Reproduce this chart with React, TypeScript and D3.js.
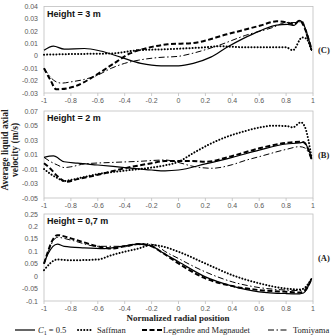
import React from "react";
import * as d3 from "d3";

type P = [number, number];

const xTicks = [-1, -0.8, -0.6, -0.4, -0.2, 0, 0.2, 0.4, 0.6, 0.8, 1];

// Panel C (Height = 3 m)
const solidC: P[] = [[-1,0.0046],[-0.93,0.008],[-0.85,0.0055],[-0.7,0.006],[-0.58,0.004],[-0.43,-0.001],[-0.28,-0.006],[-0.13,-0.008],[0,-0.008],[0.11,-0.006],[0.24,-0.001],[0.36,0.007],[0.48,0.014],[0.61,0.0205],[0.73,0.025],[0.81,0.0255],[0.86,0.0247],[0.9,0.0287],[0.94,0.023],[0.99,0.0046]];
const dottedC: P[] = [[-1,0.001],[-0.8,0.0015],[-0.5,0.002],[-0.3,0.0046],[-0.1,0.0054],[0.2,0.007],[0.3,0.0078],[0.5,0.007],[0.8,0.007],[0.85,0.0046],[0.92,0.015],[0.95,0.014],[0.99,0.004]];
const dashedC: P[] = [[-1,-0.01],[-0.95,-0.02],[-0.91,-0.027],[-0.78,-0.025],[-0.65,-0.018],[-0.5,-0.0075],[-0.36,0.002],[-0.21,0.007],[-0.08,0.0094],[0.11,0.0105],[0.36,0.0175],[0.61,0.0246],[0.73,0.028],[0.81,0.027],[0.86,0.0255],[0.9,0.0287],[0.94,0.022],[0.99,0.005]];
const dashdotC: P[] = [[-1,-0.01],[-0.93,-0.0195],[-0.87,-0.022],[-0.8,-0.021],[-0.7,-0.019],[-0.6,-0.0155],[-0.5,-0.01],[-0.4,-0.006],[-0.3,-0.0035],[-0.15,-0.0013],[0,-0.0003],[0.1,0.002],[0.3,0.0086],[0.5,0.0167],[0.7,0.023],[0.8,0.027],[0.88,0.027],[0.92,0.0283],[0.96,0.0135],[0.99,0.004]];
const yTicksC = [-0.03, -0.02, -0.01, 0, 0.01, 0.02, 0.03, 0.04];

// Panel B (Height = 2 m)
const solidB: P[] = [[-1,0.006],[-0.93,0.008],[-0.85,0.0],[-0.75,-0.002],[-0.6,-0.0045],[-0.4,-0.008],[-0.2,-0.0114],[-0.1,-0.0125],[0,-0.0114],[0.2,-0.003],[0.4,0.006],[0.6,0.016],[0.8,0.0245],[0.9,0.026],[0.93,0.027],[0.99,0.005]];
const dottedB: P[] = [[-1,-0.01],[-0.95,-0.017],[-0.9,-0.0225],[-0.85,-0.0265],[-0.8,-0.025],[-0.7,-0.021],[-0.6,-0.017],[-0.4,-0.0123],[-0.2,-0.008],[-0.1,-0.005],[0,0.0],[0.11,0.012],[0.24,0.025],[0.36,0.0345],[0.48,0.0415],[0.61,0.0475],[0.7,0.0498],[0.81,0.049],[0.85,0.0475],[0.91,0.0544],[0.94,0.048],[0.99,0.005]];
const dashedB: P[] = [[-1,-0.002],[-0.95,-0.01],[-0.9,-0.02],[-0.83,-0.0275],[-0.75,-0.024],[-0.6,-0.018],[-0.4,-0.009],[-0.2,-0.002],[-0.1,0.001],[0,0.001],[0.1,0.001],[0.2,0.0],[0.4,0.008],[0.6,0.0185],[0.8,0.026],[0.9,0.0275],[0.93,0.027],[0.99,0.003]];
const dashdotB: P[] = [[-1,0.006],[-0.95,0.0],[-0.9,-0.0045],[-0.85,-0.008],[-0.8,-0.007],[-0.7,-0.003],[-0.5,-0.001],[-0.3,0.0005],[-0.1,0.0024],[0,-0.001],[0.1,-0.006],[0.25,-0.009],[0.4,-0.004],[0.5,0.002],[0.6,0.007],[0.8,0.017],[0.9,0.0208],[0.94,0.019],[0.99,0.003]];
const yTicksB = [-0.05, -0.03, -0.01, 0.01, 0.03, 0.05, 0.07];

// Panel A (Height = 0,7 m)
const solidA: P[] = [[-1,0.051],[-0.97,0.09],[-0.9,0.129],[-0.85,0.12],[-0.7,0.114],[-0.55,0.111],[-0.4,0.122],[-0.3,0.129],[-0.2,0.122],[-0.13,0.098],[0,0.058],[0.2,-0.003],[0.4,-0.04],[0.6,-0.063],[0.8,-0.07],[0.9,-0.071],[0.93,-0.068],[0.99,-0.009]];
const dottedA: P[] = [[-1,0.024],[-0.9,0.067],[-0.8,0.064],[-0.6,0.067],[-0.5,0.084],[-0.4,0.098],[-0.3,0.111],[-0.2,0.125],[-0.13,0.121],[0,0.098],[0.2,0.051],[0.4,0.004],[0.6,-0.029],[0.8,-0.05],[0.9,-0.054],[0.93,-0.05],[0.99,-0.009]];
const dashedA: P[] = [[-1,0.05],[-0.9,0.165],[-0.8,0.152],[-0.6,0.12],[-0.5,0.111],[-0.4,0.12],[-0.3,0.129],[-0.2,0.12],[-0.13,0.098],[0,0.051],[0.2,-0.009],[0.4,-0.04],[0.6,-0.056],[0.8,-0.063],[0.9,-0.066],[0.93,-0.063],[0.99,-0.009]];
const dashdotA: P[] = [[-1,0.05],[-0.9,0.156],[-0.8,0.145],[-0.6,0.12],[-0.4,0.12],[-0.25,0.131],[-0.15,0.12],[-0.13,0.111],[0,0.071],[0.2,0.017],[0.4,-0.023],[0.6,-0.046],[0.8,-0.056],[0.9,-0.058],[0.93,-0.055],[0.99,-0.009]];
const yTicksA = [-0.1, -0.05, 0, 0.05, 0.1, 0.15, 0.2, 0.25];

const seriesNames = ["= 0.5", "Saffman", "Legendre and Magnaudet", "Tomiyama"];

const styles = [
  { width: 1.2, dash: undefined as string | undefined, cap: "butt" },
  { width: 2, dash: "0.1,3", cap: "round" },
  { width: 2, dash: "5,2.5", cap: "butt" },
  { width: 1, dash: "6,2.5,1.5,2.5", cap: "butt" },
];

const panels = [
  { label: "Height = 3 m", tag: "(C)", top: 6.5, bottom: 93, ticks: yTicksC, series: [solidC, dottedC, dashedC, dashdotC] },
  { label: "Height = 2 m", tag: "(B)", top: 111, bottom: 198, ticks: yTicksB, series: [solidB, dottedB, dashedB, dashdotB] },
  { label: "Height = 0,7 m", tag: "(A)", top: 214, bottom: 301, ticks: yTicksA, series: [solidA, dottedA, dashedA, dashdotA] },
];

const fmt = (v: number) => String(+v.toFixed(2));

export default function App() {
  const W = 334, H = 335;
  const x = d3.scaleLinear().domain([-1, 1]).range([44, 313]);
  const serif = "'Liberation Serif', 'Times New Roman', serif";
  const sans = "'Liberation Sans', Arial, sans-serif";
  const legendItems = [
    { lx: 15, len: 20, tx: 38 },
    { lx: 78, len: 14, tx: 97 },
    { lx: 142, len: 20, tx: 163 },
    { lx: 268, len: 20, tx: 293 },
  ];
  return (
    <svg width={W} height={H} style={{ position: "absolute", left: 0, top: 0, background: "#fff" }}>
      {panels.map((p, pi) => {
        const y = d3.scaleLinear().domain([p.ticks[0], p.ticks[p.ticks.length - 1]]).range([p.bottom, p.top]);
        const line = d3.line<P>().x(d => x(d[0])).y(d => y(d[1])).curve(d3.curveMonotoneX);
        return (
          <g key={pi}>
            <rect x={x(-1)} y={p.top} width={x(1) - x(-1)} height={p.bottom - p.top} fill="#fff" stroke="#bfbfbf" strokeWidth={0.8} />
            {p.ticks.map(t => (
              <text key={t} x={38} y={y(t) + 2.5} fontSize={7} fontFamily={sans} fill="#595959" textAnchor="end">{fmt(t)}</text>
            ))}
            {xTicks.map(t => (
              <g key={t}>
                <line x1={x(t)} x2={x(t)} y1={p.bottom} y2={p.bottom + 3} stroke="#bfbfbf" strokeWidth={0.8} />
                <text x={x(t)} y={p.bottom + 10} fontSize={7} fontFamily={sans} fill="#595959" textAnchor="middle">{fmt(t)}</text>
              </g>
            ))}
            <text x={47} y={p.top + 10} fontSize={9} fontWeight="bold" fontFamily={sans} fill="#111">{p.label}</text>
            <text x={318} y={(p.top + p.bottom) / 2 + 3} fontSize={8.5} fontWeight="bold" fontFamily={serif} fill="#222">{p.tag}</text>
            {p.series.map((s, si) => (
              <path key={si} d={line(s) || ""} fill="none" stroke="#000" strokeWidth={styles[si].width}
                strokeDasharray={styles[si].dash} strokeLinecap={styles[si].cap as any} />
            ))}
          </g>
        );
      })}
      <text transform="translate(8,150) rotate(-90)" fontSize={9.5} fontWeight="bold" fontFamily={serif} textAnchor="middle" fill="#222">Average liquid axial</text>
      <text transform="translate(18,150) rotate(-90)" fontSize={9.5} fontWeight="bold" fontFamily={serif} textAnchor="middle" fill="#222">velocity (m/s)</text>
      <text x={178} y={321} fontSize={9} fontWeight="bold" fontFamily={serif} textAnchor="middle" fill="#222">Normalized radial position</text>
      {legendItems.map((li, i) => (
        <g key={i}>
          <line x1={li.lx} x2={li.lx + li.len} y1={330} y2={330} stroke="#000" strokeWidth={styles[i].width}
            strokeDasharray={styles[i].dash} strokeLinecap={styles[i].cap as any} />
          {i === 0 ? (
            <text x={li.tx} y={333} fontSize={8.5} fontFamily={serif} fill="#222">
              <tspan fontStyle="italic">C</tspan><tspan fontSize={6} dy={1.5}>1</tspan><tspan dy={-1.5}> {seriesNames[i]}</tspan>
            </text>
          ) : (
            <text x={li.tx} y={333} fontSize={8.5} fontFamily={serif} fill="#222">{seriesNames[i]}</text>
          )}
        </g>
      ))}
    </svg>
  );
}
